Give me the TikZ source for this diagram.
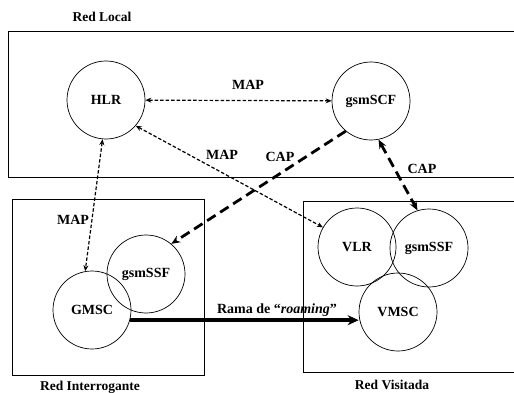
\documentclass[tikz,border=0pt]{standalone}
\usepackage{fontspec}
\setmainfont{Liberation Serif}
\usetikzlibrary{arrows.meta}
\begin{document}
\begin{tikzpicture}[x=1pt,y=-1pt,
  unit/.style={circle,draw,line width=0.7pt,minimum size=78pt,inner sep=0pt,font=\bfseries\fontsize{14}{16}\selectfont},
  lbl/.style={font=\bfseries\fontsize{14}{16}\selectfont,inner sep=0pt},
  rlbl/.style={font=\bfseries\fontsize{13.5}{16}\selectfont,inner sep=0pt},
  region/.style={draw,line width=0.8pt},
  thinmap/.style={line width=1.2pt,dash pattern=on 3.5pt off 2pt,{Stealth[length=6pt,width=5pt]}-{Stealth[length=6pt,width=5pt]}},
  thickcap/.style={line width=2.8pt,dash pattern=on 10pt off 5.5pt},
  captip/.style={-{Stealth[length=9pt,width=7.5pt]}},
  captips/.style={{Stealth[length=9pt,width=7.5pt]}-{Stealth[length=9pt,width=7.5pt]}},
  roam/.style={line width=3.6pt,-{Stealth[length=11pt,width=10pt]}}]
\useasboundingbox (0,0) rectangle (514,393);
\clip (0,0) rectangle (514,393);
% regions
\draw[region] (8,31) rectangle (530,177);
\draw[region] (12,199) rectangle (204,375);
\draw[region] (303,201) rectangle (530,372);
\node[rlbl] (lloc) at (102,17) {Red Local};
\node[rlbl] (lint) at (90,387) {Red Interrogante};
\node[rlbl] (lvis) at (392,385) {Red Visitada};
% units
\node[unit] (hlr) at (106,100) {HLR};
\node[unit] (gsmscf) at (371,101) {gsmSCF};
\node[unit] (ssfl) at (146,274) {gsmSSF};
\node[unit] (gmsc) at (92,310) {GMSC};
\node[unit] (vlr) at (357,247) {VLR};
\node[unit] (ssfr) at (429,248) {gsmSSF};
\node[unit] (vmsc) at (398,312) {VMSC};
% connectors
\draw[thinmap] (hlr) -- (gsmscf);
\draw[thinmap] (hlr.265) -- (gmsc.100);
\draw[thinmap] (hlr.-41) -- (vlr.150);
\draw[thickcap,captip] (gsmscf.230) -- (ssfl.50);
\draw[thickcap,captips] (gsmscf.281) -- (ssfr.107);
\draw[roam] (gmsc.-15) -- (vmsc.west |- gmsc.-15);
% labels
\node[lbl] (mapa) at (248,85) {MAP};
\node[lbl] (mapb) at (222,155) {MAP};
\node[lbl] (mapc) at (73,220) {MAP};
\node[lbl] (capa) at (280,157) {CAP};
\node[lbl] (capb) at (422,169) {CAP};
\node[lbl] (rama) at (277,310) {Rama de “\textit{roaming}”};
\end{tikzpicture}
\end{document}
